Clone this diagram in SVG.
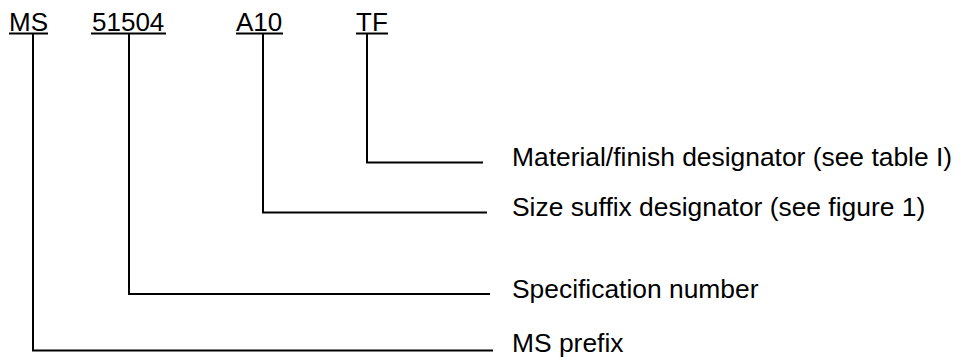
<svg xmlns="http://www.w3.org/2000/svg" width="956" height="358" viewBox="0 0 956 358">
<style>
text{font-family:"Liberation Sans",Arial,sans-serif;font-size:26px;fill:#000}
.r{font-size:26.4px}
.u{stroke:#000;stroke-width:2;fill:none}
.c{stroke:#000;stroke-width:2;fill:none}
</style>
<rect width="956" height="358" fill="#fff"/>
<g id="code-ms"><text x="9" y="31">MS</text><line class="u" x1="9" y1="33.5" x2="48" y2="33.5"/></g>
<g id="code-51504"><text x="92" y="31">51504</text><line class="u" x1="91" y1="33.5" x2="166" y2="33.5"/></g>
<g id="code-a10"><text x="236" y="31">A10</text><line class="u" x1="236" y1="33.5" x2="283" y2="33.5"/></g>
<g id="code-tf"><text x="356" y="31">TF</text><line class="u" x1="356" y1="33.5" x2="388" y2="33.5"/></g>
<g id="label-material"><text class="r" x="512" y="166">Material/finish designator (see table I)</text></g>
<g id="label-size"><text class="r" x="512" y="216">Size suffix designator (see figure 1)</text></g>
<g id="label-spec"><text class="r" x="512" y="298">Specification number</text></g>
<g id="label-prefix"><text class="r" x="512" y="352">MS prefix</text></g>
<g id="connectors">
<polyline class="c" points="367,34 367,162.5 483,162.5"/>
<polyline class="c" points="263,34 263,212.5 487,212.5"/>
<polyline class="c" points="129,34 129,294 490,294"/>
<polyline class="c" points="33,34 33,350.5 493,350.5"/>
</g>
</svg>
